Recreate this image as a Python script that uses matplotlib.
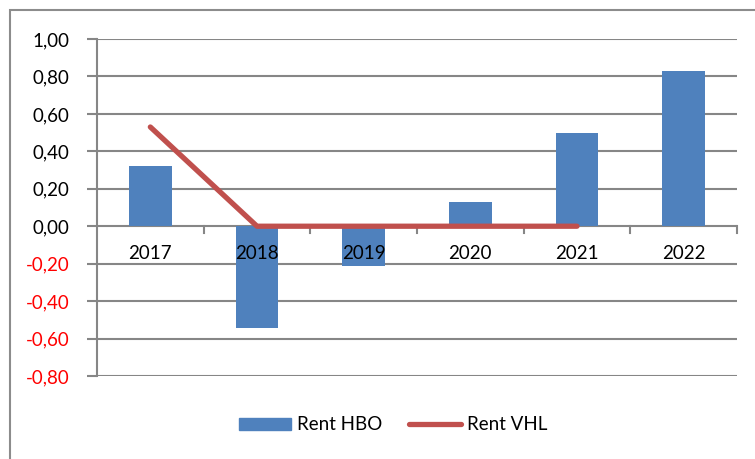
import matplotlib
matplotlib.use("Agg")
import matplotlib.pyplot as plt
from matplotlib.patches import Rectangle
from matplotlib.lines import Line2D
import numpy as np

years = ["2017", "2018", "2019", "2020", "2021", "2022"]
rent_hbo = [0.32, -0.545, -0.21, 0.13, 0.50, 0.83]
rent_vhl = [0.53, 0.0, 0.0, 0.0, 0.0]
yticks = [-0.8, -0.6, -0.4, -0.2, 0.0, 0.2, 0.4, 0.6, 0.8, 1.0]

W, H = 755, 459
fig = plt.figure(figsize=(W/100, H/100), dpi=100)
plt.rcParams['font.family'] = ['Lato', 'DejaVu Sans']
FS = 13.5

# outer frame
fig.patches.append(Rectangle((10/W, -0.1), 1.2, (H-10)/H + 0.1, transform=fig.transFigure,
                             fill=False, edgecolor='#8c8c8c', linewidth=1.5))

x0, x1 = 97, 737
ytop, ybot = 39, 376
ax = fig.add_axes([x0/W, 1-ybot/H, (x1-x0)/W, (ybot-ytop)/H])
ax.set_xlim(-0.5, 5.5)
ax.set_ylim(-0.8, 1.0)

grid_c = '#868686'
for v in yticks:
    ax.axhline(v, color=grid_c, linewidth=1.5, zorder=0)

x = np.arange(len(years))
ax.bar(x, rent_hbo, width=0.4, color='#4f81bd', zorder=2, label='Rent HBO')
ax.plot(np.arange(len(rent_vhl)), rent_vhl, color='#c0504d', linewidth=3.8,
        solid_capstyle='round', zorder=3, label='Rent VHL')

for s in ['top', 'right', 'bottom']:
    ax.spines[s].set_visible(False)
ax.spines['left'].set_color(grid_c)
ax.spines['left'].set_linewidth(1.5)

ax.set_yticks(yticks)
ax.set_yticklabels([f"{v:.2f}".replace('.', ',') for v in yticks], fontsize=FS)
for lab, v in zip(ax.get_yticklabels(), yticks):
    lab.set_color('red' if v < 0 else 'black')
ax.tick_params(axis='y', length=7, color=grid_c, width=1.5, pad=13)

# x tick marks at category boundaries on zero line
ax.set_xticks([])
for b in np.arange(0.5, 6.0, 1.0):
    ax.plot([b, b], [0, -0.035], color=grid_c, linewidth=1.5, zorder=1, clip_on=False)
for xi, yr in zip(x, years):
    ax.text(xi, -0.145, yr, ha='center', va='center', fontsize=FS, zorder=4)

handles = [Rectangle((0, 0), 1, 1, color='#4f81bd'),
           Line2D([0], [0], color='#c0504d', linewidth=3.8, solid_capstyle='round')]
fig.legend(handles, ['Rent HBO', 'Rent VHL'], loc='center', bbox_to_anchor=(393/W, 1-425/H),
           ncol=2, frameon=False, fontsize=FS, handlelength=2.8, handleheight=0.65,
           columnspacing=1.4, handletextpad=0.3)

fig.savefig("out.png", dpi=100)
